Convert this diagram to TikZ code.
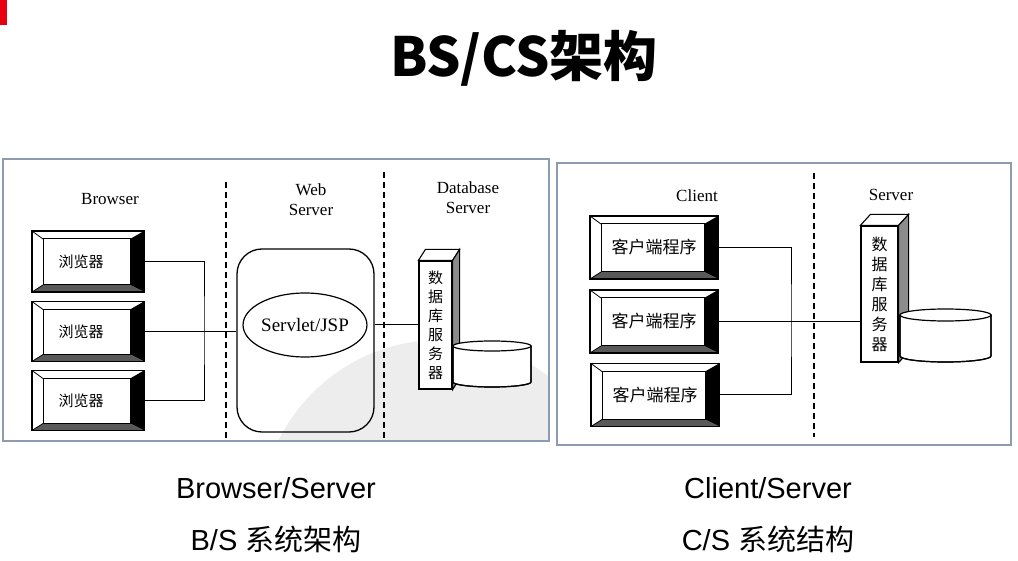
\documentclass[tikz,border=0pt]{standalone}
\usepackage{fontspec}
\setmainfont{Liberation Serif}
\newfontfamily\cjk{Noto Sans CJK SC}
\newfontfamily\arial{Liberation Sans}
\usetikzlibrary{calc,shapes.geometric}
\definecolor{frame}{HTML}{8C9BAF}
\definecolor{redbar}{HTML}{E60012}
\tikzset{
  lbl/.style={font=\fontsize{17}{20}\selectfont, align=center, inner sep=0pt},
  bevelbox/.style={draw, line width=1.3pt, inner sep=0pt,
    font=\cjk\fontsize{15}{15}\selectfont,
    path picture={
      \coordinate (@nw) at (path picture bounding box.north west);
      \coordinate (@ne) at (path picture bounding box.north east);
      \coordinate (@se) at (path picture bounding box.south east);
      \coordinate (@sw) at (path picture bounding box.south west);
      \coordinate (@a) at ($(@nw)+(11pt,-8pt)$);
      \coordinate (@b) at ($(@ne)+(-14pt,-8pt)$);
      \coordinate (@c) at ($(@se)+(-14pt,7pt)$);
      \coordinate (@d) at ($(@sw)+(11pt,7pt)$);
      \fill[black] (@ne) -- (@b) -- (@c) -- (@se) -- cycle;
      \fill[black!65] (@sw) -- (@d) -- (@c) -- (@se) -- cycle;
      \draw[line width=1pt] (@a) rectangle (@c);
      \draw[line width=0.8pt] (@nw) -- (@a) (@sw) -- (@d);
    }},
  tower/.style={draw, line width=1.2pt, fill=white, inner sep=0pt, align=center,
    font=\cjk\fontsize{15}{19}\selectfont},
  side/.style={draw, line width=1.1pt, fill=black!45},
  topface/.style={draw, line width=1.1pt, fill=white},
  dbody/.style={draw, line width=1.2pt, fill=white},
  sep/.style={line width=1.5pt, dash pattern=on 6pt off 4pt},
  wire/.style={line width=1pt},
  panel/.style={draw=frame, line width=1.4pt},
  caption/.style={font=\arial\fontsize{29}{29}\selectfont, inner sep=0pt}
}
\begin{document}
\begin{tikzpicture}[x=1pt,y=-1pt]
\useasboundingbox (0,0) rectangle (1018,561);
\fill[white] (0,0) rectangle (1018,561);
\fill[redbar] (0,0) rectangle (7,25);

% title
\node[font=\cjk\bfseries\fontsize{54}{54}\selectfont, inner sep=0pt] (title) at (524,58) {BS/CS架构};

% ---------- left panel ----------
\begin{scope}
  \clip (3,159) rectangle (549,441);
  \fill[black!7] (440,520) circle[radius=180];
\end{scope}
\draw[panel] (3,159) rectangle (549,441);

\draw[sep] (226,182) -- (226,440);
\draw[sep] (384,172) -- (384,440);

\node[lbl] (lbrowser) at (110,199) {Browser};
\node[lbl] (lweb) at (311,199.5) {Web\\Server};
\node[lbl] (ldb) at (468,198) {Database\\Server};

\node[bevelbox, minimum width=112pt, minimum height=61pt] (b1) at (88,261.5) {浏览器\hspace*{14pt}};
\node[bevelbox, minimum width=112pt, minimum height=60pt] (b2) at (88,331.5) {浏览器\hspace*{14pt}};
\node[bevelbox, minimum width=112pt, minimum height=60pt] (b3) at (88,400.5) {浏览器\hspace*{14pt}};

\node[draw, line width=1.3pt, rounded corners=25pt, minimum width=137pt, minimum height=183pt] (web) at (305.5,340.5) {};
\node[draw, line width=1.2pt, ellipse, minimum width=115pt, minimum height=64pt, inner sep=0pt,
      font=\fontsize{19}{19}\selectfont] (servlet) at (305,325) {Servlet/JSP};

\coordinate (j1) at (204,330);
\draw[wire] (b1.east) -| (j1) |- (b3.east);
\draw[wire] (b2.east) -- (b2.east -| web.west);

% database tower (left)
\node[tower, minimum width=33pt, minimum height=128pt] (t1) at (435.5,325) {数\\据\\库\\服\\务\\器};
\draw[topface] (t1.north west) -- ++(7,-11) -- ($(t1.north east)+(7,-11)$) -- (t1.north east) -- cycle;
\draw[side] (t1.north east) -- ++(7,-11) -- ($(t1.south east)+(7,-11)$) -- (t1.south east) -- cycle;
\coordinate (db1) at (492,346);
\path[dbody] (453,346) -- (453,382) arc[start angle=180, end angle=0, x radius=39, y radius=5] -- (531,346) -- cycle;
\draw[line width=1.2pt] (453,346) -- (453,382) arc[start angle=180, end angle=0, x radius=39, y radius=5] -- (531,346);
\draw[dbody] (db1) ellipse[x radius=39, y radius=5];
\draw[wire] (web.east |- servlet.east) -- (servlet.east -| t1.west);

% ---------- right panel ----------
\draw[panel] (557,163) rectangle (1011,445);
\draw[sep] (814,173) -- (814,437);

\node[lbl] (lclient) at (697,196) {Client};
\node[lbl] (lserver) at (891,195) {Server};

\node[bevelbox, minimum width=128pt, minimum height=63pt, font=\cjk\fontsize{17}{17}\selectfont] (c1) at (654,247.5) {客户端程序};
\node[bevelbox, minimum width=128pt, minimum height=63pt, font=\cjk\fontsize{17}{17}\selectfont] (c2) at (654,321.5) {客户端程序};
\node[bevelbox, minimum width=128pt, minimum height=63pt, font=\cjk\fontsize{17}{17}\selectfont] (c3) at (655,395) {客户端程序};

\coordinate (j2) at (791,320);
\draw[wire] (c1.east) -| (j2) |- (c3.east);

\node[tower, minimum width=37pt, minimum height=136pt, font=\cjk\fontsize{16}{20}\selectfont] (t2) at (879.5,294) {数\\据\\库\\服\\务\\器};
\draw[topface] (t2.north west) -- ++(10,-11) -- ($(t2.north east)+(10,-11)$) -- (t2.north east) -- cycle;
\draw[side] (t2.north east) -- ++(10,-11) -- ($(t2.south east)+(10,-11)$) -- (t2.south east) -- cycle;
\coordinate (db2) at (945.5,315);
\path[dbody] (900,315) -- (900,356) arc[start angle=180, end angle=0, x radius=45.5, y radius=6] -- (991,315) -- cycle;
\draw[line width=1.2pt] (900,315) -- (900,356) arc[start angle=180, end angle=0, x radius=45.5, y radius=6] -- (991,315);
\draw[dbody] (db2) ellipse[x radius=45.5, y radius=6];
\draw[wire] (c2.east) -- (c2.east -| t2.west);

% ---------- captions ----------
\node[caption] (cap1) at (276,488) {Browser/Server};
\node[caption] (cap2) at (276,539) {B/S {\cjk 系统架构}};
\node[caption] (cap3) at (768,488) {Client/Server};
\node[caption] (cap4) at (768,539) {C/S {\cjk 系统结构}};
\end{tikzpicture}
\end{document}
